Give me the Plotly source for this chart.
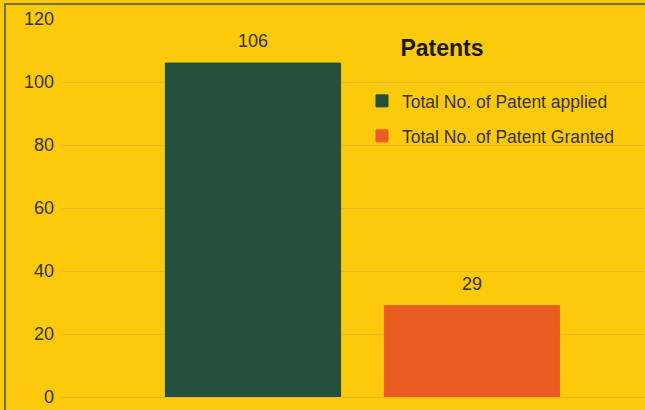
import plotly.graph_objects as go

# ---- data ----
categories = ["Total No. of Patent applied", "Total No. of Patent Granted"]
values = [106, 29]
positions = [0, 1]
tick_values = [0, 20, 40, 60, 80, 100, 120]
title_text = "Patents"

colors = ["#234F3B", "#E95D23"]
legend_colors = ["#1D4E3A", "#EE6426"]
legends = ["legend", "legend2"]

fig = go.Figure()
for i, (cat, val, pos) in enumerate(zip(categories, values, positions)):
    fig.add_trace(go.Bar(
        x=[pos], y=[val], name=cat, width=0.8,
        marker=dict(color=colors[i], line=dict(width=1, color=colors[i])),
        legend=legends[i], showlegend=True,
    ))
    fig.add_annotation(
        x=pos, y=val, text=str(val), showarrow=False,
        yanchor="bottom", yshift=10,
        font=dict(family="Liberation Sans, Arial", size=18, color="#333333"),
    )

bg = "#FDC90B"
legend_font = dict(family="Liberation Sans, Arial", size=17.5, color="#333333")

fig.update_layout(
    width=645, height=410,
    margin=dict(l=62, r=0, t=19, b=13, autoexpand=False),
    paper_bgcolor=bg, plot_bgcolor=bg,
    title=dict(text="<b>" + title_text + "</b>", x=442 / 645, xanchor="center",
               y=1 - 48 / 410, yanchor="middle",
               font=dict(family="Liberation Sans, Arial", size=23, color="#1A1A1A")),
    xaxis=dict(range=[-0.872, 1.79], showticklabels=False, showgrid=False,
               zeroline=False, showline=False),
    yaxis=dict(range=[0, 120], tickvals=tick_values, showgrid=True,
               gridcolor="#E8BC30", gridwidth=1, zeroline=True,
               zerolinecolor="#E2B530", zerolinewidth=1, showline=False,
               ticklabelstandoff=7,
               tickfont=dict(family="Liberation Sans, Arial", size=18, color="#333333")),
    legend=dict(x=(362 - 62) / 583, y=(397 - 101) / 378,
                xanchor="left", yanchor="middle", bgcolor="rgba(0,0,0,0)",
                font=legend_font),
    legend2=dict(x=(362 - 62) / 583, y=(397 - 136) / 378,
                 xanchor="left", yanchor="middle", bgcolor="rgba(0,0,0,0)",
                 font=legend_font),
    showlegend=True,
)

fig.add_shape(type="rect", xref="paper", yref="paper",
              x0=(5 - 62) / 583, x1=1.2, y0=-0.2, y1=(397 - 4) / 378,
              line=dict(color="#6F7446", width=2), fillcolor="rgba(0,0,0,0)",
              layer="above")

fig.write_html("out.html", config={"displayModeBar": False},
               post_script="document.body.style.margin='0';")
